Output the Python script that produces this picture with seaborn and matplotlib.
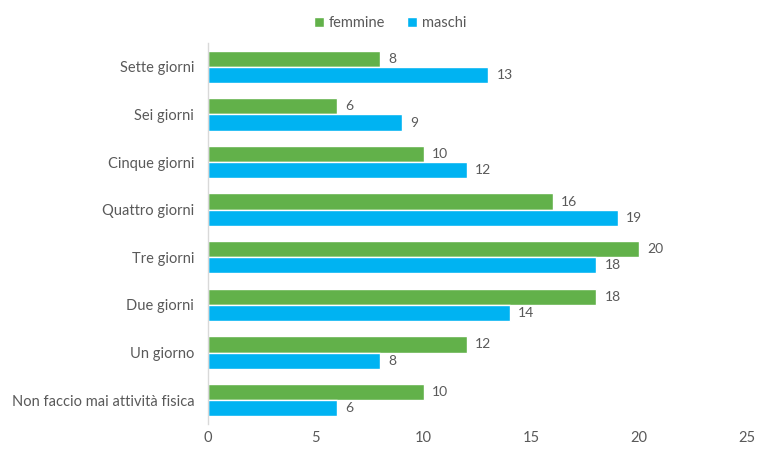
import matplotlib
matplotlib.use("Agg")
import matplotlib.pyplot as plt
import seaborn as sns
import pandas as pd

categorie = ["Sette giorni", "Sei giorni", "Cinque giorni", "Quattro giorni",
             "Tre giorni", "Due giorni", "Un giorno", "Non faccio mai attività fisica"]
femmine = [8, 6, 10, 16, 20, 18, 12, 10]
maschi = [13, 9, 12, 19, 18, 14, 8, 6]
serie = ["femmine", "maschi"]
colori = ["#62B14A", "#00B3F2"]

df = pd.DataFrame({
    "categoria": categorie * 2,
    "valore": femmine + maschi,
    "sesso": [serie[0]] * len(categorie) + [serie[1]] * len(categorie),
})

sns.set_theme(style="white")
plt.rcParams["font.family"] = ["Lato", "DejaVu Sans"]
text_col = "#595959"

fig = plt.figure(figsize=(7.57, 4.49), dpi=100)
ax = fig.add_axes([0.2748, 0.0557, 0.712, 0.8486])

sns.barplot(data=df, y="categoria", x="valore", hue="sesso", order=categorie,
            hue_order=serie, palette=colori, saturation=1, orient="h", width=0.68,
            ax=ax, legend=True)

for cont in ax.containers:
    ax.bar_label(cont, labels=[f"{v:g}" for v in cont.datavalues],
                 padding=6, fontsize=10, color=text_col)

ax.set_xlim(0, 25)
ax.set_xticks(range(0, 26, 5))
ax.set_xlabel("")
ax.set_ylabel("")
for s in ["top", "right", "bottom"]:
    ax.spines[s].set_visible(False)
ax.spines["left"].set_color("#D9D9D9")
ax.spines["left"].set_linewidth(1)
ax.tick_params(axis="x", length=0, pad=5, labelsize=10.5, labelcolor=text_col)
ax.tick_params(axis="y", length=0, pad=10, labelsize=10.5, labelcolor=text_col)

handles, labels = ax.get_legend_handles_labels()
ax.legend(handles, labels, loc="upper center", bbox_to_anchor=(0.338, 1.105),
          ncol=2, frameon=False, fontsize=10.5, labelcolor=text_col,
          handlelength=0.7, handleheight=0.7, handletextpad=0.3, columnspacing=1.5)

fig.savefig("out.png", dpi=100)
